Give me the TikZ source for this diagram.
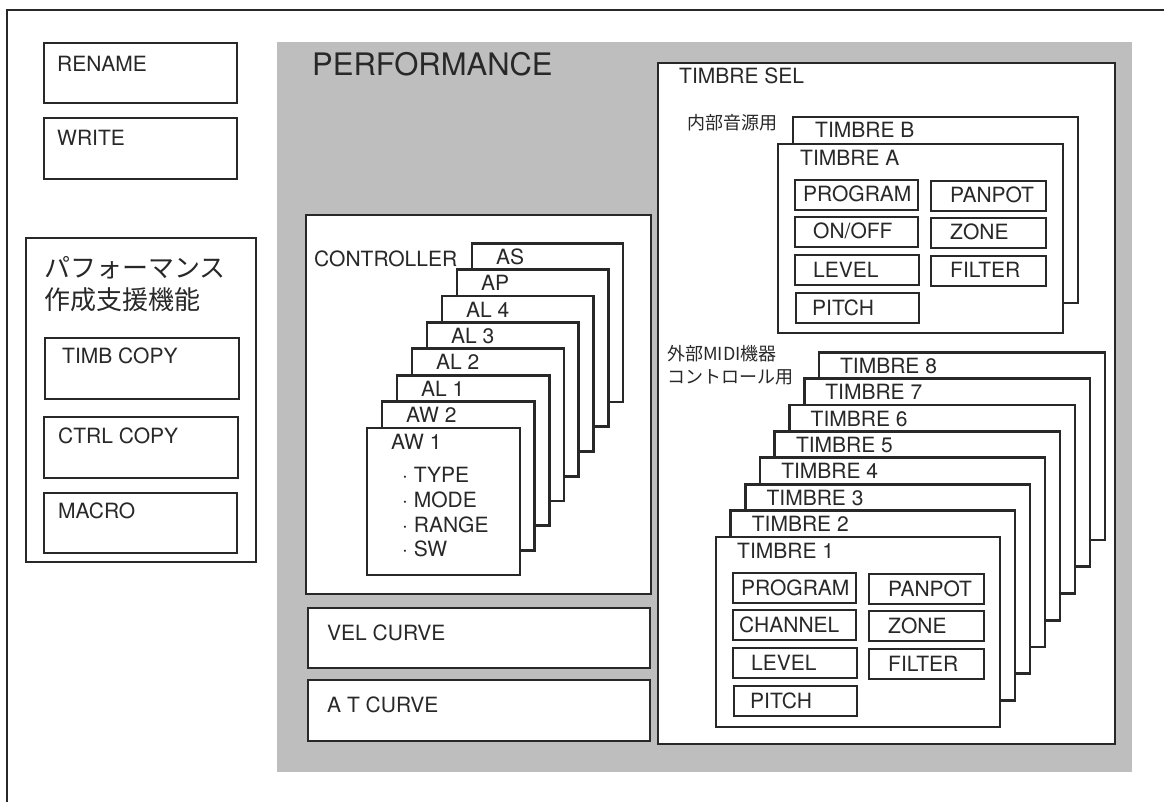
\documentclass[tikz,border=0pt]{standalone}
\usepackage{fontspec}
\setmainfont{TeX Gyre Heros}
\newfontfamily\jpfont{Noto Sans CJK JP}
\definecolor{ink}{RGB}{40,40,40}
\definecolor{panel}{RGB}{190,190,190}
\tikzset{
  box/.style={draw=ink, line width=2.7pt, fill=white, inner sep=0pt, outer sep=0pt},
  txt/.style={text=ink, font=\fontsize{21}{25}\selectfont, inner sep=0pt, anchor=base west},
  jbig/.style={text=ink, font=\jpfont\fontsize{26}{30}\selectfont, inner sep=0pt, anchor=base west},
  jsmall/.style={text=ink, font=\jpfont\fontsize{18}{22}\selectfont, inner sep=0pt, anchor=base west},
  bigtxt/.style={text=ink, font=\fontsize{31}{36}\selectfont, inner sep=0pt, anchor=base west}
}
% name, x1, y1, x2, y2
\newcommand{\mybox}[5]{%
  \pgfmathsetmacro\mybw{(#4)-(#2)}%
  \pgfmathsetmacro\mybh{(#5)-(#3)}%
  \node[box, anchor=north west, minimum width=\mybw pt, minimum height=\mybh pt] (#1) at ({#2},{#3}) {};}
% prefix, L, T, second label, second label offset
\newcommand{\paramset}[5]{%
  \mybox{#1a}{#2+17}{#3+36}{#2+140}{#3+66}
  \node[txt] (#1a-t) at ({#2+25},{#3+58}) {PROGRAM};
  \mybox{#1b}{#2+17}{#3+73}{#2+140}{#3+103}
  \node[txt] (#1b-t) at ({#2+17+#5},{#3+95}) {#4};
  \mybox{#1c}{#2+17}{#3+111}{#2+141}{#3+141}
  \node[txt] (#1c-t) at ({#2+35},{#3+133}) {LEVEL};
  \mybox{#1d}{#2+18}{#3+149}{#2+141}{#3+179}
  \node[txt] (#1d-t) at ({#2+34},{#3+171}) {PITCH};
  \mybox{#1e}{#2+153}{#3+37}{#2+268}{#3+67}
  \node[txt] (#1e-t) at ({#2+172},{#3+59}) {PANPOT};
  \mybox{#1f}{#2+153}{#3+74}{#2+268}{#3+104}
  \node[txt] (#1f-t) at ({#2+172},{#3+96}) {ZONE};
  \mybox{#1g}{#2+153}{#3+112}{#2+268}{#3+142}
  \node[txt] (#1g-t) at ({#2+172},{#3+134}) {FILTER};
}
\begin{document}
\begin{tikzpicture}[x=1pt,y=-1pt]
\useasboundingbox (0,0) rectangle (1164,802);
% grey performance panel
\fill[panel] (277,42) rectangle (1132,772);
% outer frame (only top and left visible)
\draw[ink, line width=2.2pt] (7,830) -- (7,10) -- (1190,10);

% left column
\mybox{rename}{44}{43}{237}{103}
\node[txt] (rename-t) at (57,72) {RENAME};
\mybox{write}{44}{118}{237}{179}
\node[txt] (write-t) at (57,146) {WRITE};
\mybox{assist}{26}{238}{256}{562}
\node[jbig] (assist-t1) at (44,278) {パフォーマンス};
\node[jbig] (assist-t2) at (44,309) {作成支援機能};
\mybox{timb}{45}{338}{239}{399}
\node[txt] (timb-t) at (62,363) {TIMB COPY};
\mybox{ctrl}{44}{417}{238}{478}
\node[txt] (ctrl-t) at (58,443) {CTRL COPY};
\mybox{macro}{44}{493}{237}{553}
\node[txt] (macro-t) at (58,518) {MACRO};

% performance
\node[bigtxt] (perf-t) at (312,76) {PERFORMANCE};

% controller
\mybox{ctlr}{306}{215}{651}{594}
\node[txt] (ctlr-t) at (314,266) {CONTROLLER};
\foreach \k/\lab in {7/AS,6/AP,5/AL 4,4/AL 3,3/AL 2,2/AL 1,1/AW 2,0/AW 1}{
  \pgfmathsetmacro\myL{367+15*\k}
  \pgfmathsetmacro\myT{428-26.4*\k}
  \pgfmathsetmacro\myR{520+14.7*\k}
  \pgfmathsetmacro\myB{575-24.7*\k}
  \mybox{ctl\k}{\myL}{\myT}{\myR}{\myB}
  \node[txt] (ctl\k-t) at ({\myL+24},{\myT+21}) {\lab};
}
\node[txt] (aw-type) at (402,482) {· TYPE};
\node[txt] (aw-mode) at (402,507) {· MODE};
\node[txt] (aw-range) at (402,532) {· RANGE};
\node[txt] (aw-sw) at (402,556) {· SW};

% curves
\mybox{vel}{308}{608}{650}{668}
\node[txt] (vel-t) at (327,640) {VEL CURVE};
\mybox{atc}{308}{680}{650}{741}
\node[txt] (atc-t) at (327,712) {A T CURVE};

% timbre select
\mybox{tsel}{658}{63}{1115}{744}
\node[txt] (tsel-t) at (679,84) {TIMBRE SEL};
\node[jsmall] (int-t) at (687,130) {内部音源用};
\mybox{tb}{793}{117}{1078}{303}
\node[txt] (tb-t) at (815,138) {TIMBRE B};
\mybox{ta}{778}{144}{1063}{333}
\node[txt] (ta-t) at (800,166) {TIMBRE A};
\paramset{pa}{778}{144}{ON/OFF}{18}

\node[jsmall] (ext-t1) at (667,360) {外部MIDI機器};
\node[jsmall] (ext-t2) at (667,383) {コントロール用};
\foreach \k in {7,6,5,4,3,2,1,0}{
  \pgfmathsetmacro\myL{716+14.7*\k}
  \pgfmathsetmacro\myT{537-26.4*\k}
  \pgfmathsetmacro\myR{1000+15*\k}
  \pgfmathsetmacro\myB{727-26.7*\k}
  \pgfmathtruncatemacro\myN{\k+1}
  \mybox{tm\k}{\myL}{\myT}{\myR}{\myB}
  \node[txt] (tm\k-t) at ({\myL+21},{\myT+21}) {TIMBRE \myN};
}
\paramset{pb}{716}{537}{CHANNEL}{6}
\end{tikzpicture}
\end{document}
